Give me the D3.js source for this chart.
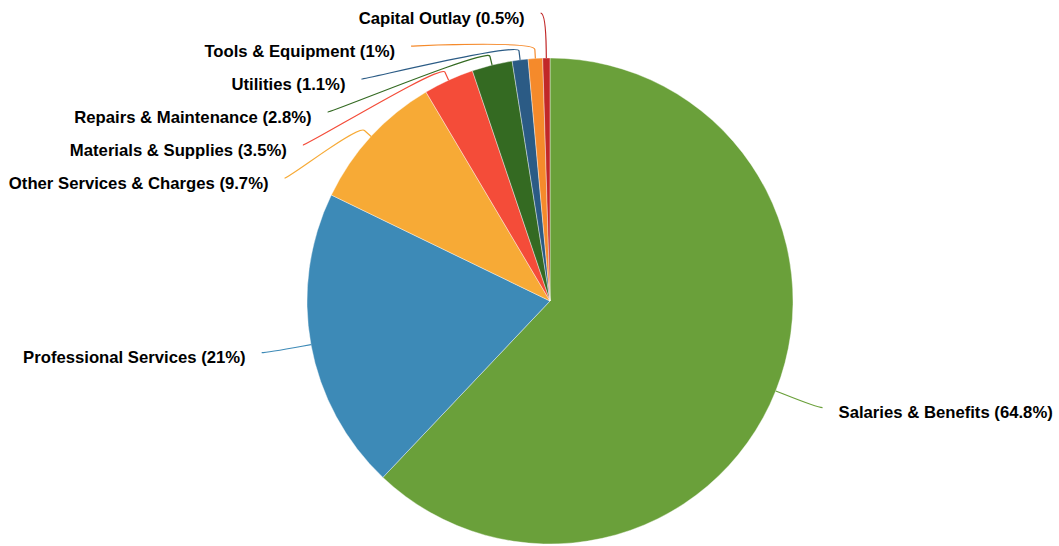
<!DOCTYPE html>
<html>
<head>
<meta charset="utf-8">
<script src="https://cdn.jsdelivr.net/npm/d3@7"></script>
<style>
  html, body { margin: 0; padding: 0; background: #fff; }
  svg { display: block; }
  .label { font-family: "Liberation Sans", Arial, Helvetica, sans-serif; font-weight: bold; font-size: 16.7px; fill: #000; }
</style>
</head>
<body>
<svg id="chart" width="1059" height="546"></svg>
<script>
// Expense categories and their shares (%)
const categories = [
  "Salaries & Benefits",
  "Professional Services",
  "Other Services & Charges",
  "Materials & Supplies",
  "Repairs & Maintenance",
  "Utilities",
  "Tools & Equipment",
  "Capital Outlay"
];
const shares = [64.8, 21, 9.7, 3.5, 2.8, 1.1, 1, 0.5];
const colors = ["#6aa03a", "#3d8ab7", "#f7aa36", "#f44c39", "#346a22", "#2b5b85", "#f58a2b", "#c12828"];

const W = 1059, H = 546;
const cx = 550, cy = 301, R = 243;
const labelDistance = 45;      // label ring sits this far outside the pie
const labelPadding = 5;        // extra horizontal gap on the label ring
const labelSpacing = 33;       // minimum vertical gap between stacked labels
const textGap = 16;            // gap between connector end and text

const data = categories.map((c, i) => ({ name: c, value: shares[i], color: colors[i] }));

const svg = d3.select("#chart");
const g = svg.append("g").attr("transform", `translate(${cx},${cy})`);

const pie = d3.pie().sort(null).value(d => d.value);
const arcs = pie(data);
const arc = d3.arc().innerRadius(0).outerRadius(R);

g.selectAll("path.slice")
  .data(arcs)
  .join("path")
  .attr("class", "slice")
  .attr("d", arc)
  .attr("fill", d => d.data.color)
  .attr("stroke", "#fff")
  .attr("stroke-width", 0.4)
  .attr("stroke-linejoin", "round");

// Label placement: natural position on an outer ring, then stacked per side
const ring = R + labelDistance;
const breakOffset = Math.min(11, labelDistance / 5);
const items = arcs.map(a => {
  const mid = (a.startAngle + a.endAngle) / 2;
  const s = Math.sin(mid), c = Math.cos(mid);
  return {
    a,
    left: s < 0,
    s, c,
    naturalY: cy - ring * c,
    touch: [cx + R * s, cy - R * c],
    brk: [cx + (R + breakOffset) * s, cy - (R + breakOffset) * c]
  };
});

const topLimit = cy - ring, bottomLimit = cy + ring;
[true, false].forEach(side => {
  const group = items.filter(d => d.left === side).sort((p, q) => p.naturalY - q.naturalY);
  let prev = -Infinity;
  group.forEach(d => {
    d.y = Math.max(d.naturalY, prev + labelSpacing, topLimit);
    prev = d.y;
  });
  // push back up if the stack overflows the bottom
  let next = Infinity;
  for (let i = group.length - 1; i >= 0; i--) {
    const d = group[i];
    d.y = Math.min(d.y, next - labelSpacing, bottomLimit);
    next = d.y;
  }
});

function ringX(y, left) {
  const dy = Math.max(-ring, Math.min(ring, y - cy));
  const off = Math.sqrt(ring * ring - dy * dy) + labelPadding;
  return cx + (left ? -off : off);
}

items.forEach(d => {
  d.x = ringX(d.y, d.left);
});

const lines = svg.append("g");
lines.selectAll("path.connector")
  .data(items)
  .join("path")
  .attr("class", "connector")
  .attr("fill", "none")
  .attr("stroke", d => d.a.data.color)
  .attr("stroke-width", 1.2)
  .attr("d", d => {
    const p = d3.path();
    p.moveTo(d.x, d.y);
    p.bezierCurveTo(
      d.x + (d.left ? 5 : -5), d.y,
      2 * d.brk[0] - d.touch[0], 2 * d.brk[1] - d.touch[1],
      d.brk[0], d.brk[1]
    );
    p.lineTo(d.touch[0], d.touch[1]);
    return p.toString();
  });

const fmt = v => `${v}%`;
svg.append("g").selectAll("text")
  .data(items)
  .join("text")
  .attr("class", "label")
  .attr("x", d => d.left ? d.x - textGap : d.x + textGap)
  .attr("y", d => d.y + 10.5)
  .attr("text-anchor", d => d.left ? "end" : "start")
  .text(d => `${d.a.data.name} (${fmt(d.a.data.value)})`);
</script>
</body>
</html>
